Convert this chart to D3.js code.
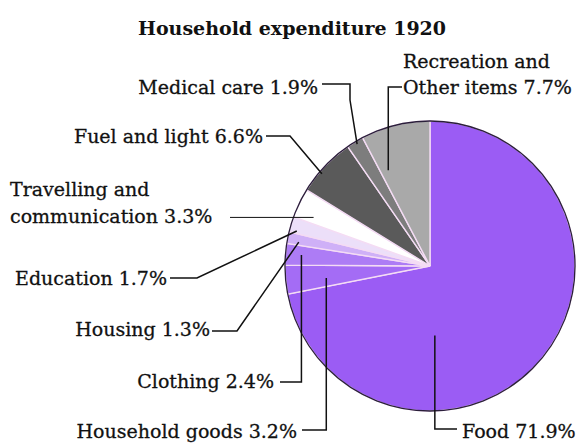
<!DOCTYPE html>
<html>
<head>
<meta charset="utf-8">
<script src="https://cdn.jsdelivr.net/npm/d3@7"></script>
<style>
  html, body { margin: 0; padding: 0; background: #fff; }
  svg { display: block; }
  text { font-family: "DejaVu Serif", serif; fill: #111; stroke: #111; stroke-width: 0.3; }
</style>
</head>
<body>
<svg id="chart" width="578" height="445"></svg>
<script>
// Household expenditure shares, 1920 (percent), clockwise from 12 o'clock
const categories = [
  "Food", "Household goods", "Clothing", "Housing", "Education",
  "Travelling and communication", "Fuel and light", "Medical care",
  "Recreation and Other items"
];
const shares = [71.9, 3.2, 2.4, 1.3, 1.7, 3.3, 6.6, 1.9, 7.7];
const palette = [
  "#9b5cf4", "#a46cf5", "#ad7cf5", "#cfb0f7", "#ecdff9",
  "#ffffff", "#5a5a5a", "#7d7d7d", "#a9a9a9"
];
// label lines as printed (value text appended from shares)
const labelLines = [
  ["Food"], ["Household goods"], ["Clothing"], ["Housing"], ["Education"],
  ["Travelling and", "communication"], ["Fuel and light"], ["Medical care"],
  ["Recreation and", "Other items"]
];

const W = 578, H = 445;
const cx = 430, cy = 266, R = 145;
const svg = d3.select("#chart");

svg.append("text")
  .attr("x", 292).attr("y", 35)
  .attr("text-anchor", "middle")
  .attr("font-weight", "bold")
  .attr("font-size", 19)
  .style("stroke-width", 0)
  .text("Household expenditure 1920");

const pie = d3.pie().sort(null).value(d => d)(shares);
const arc = d3.arc().innerRadius(0).outerRadius(R);

const g = svg.append("g").attr("transform", `translate(${cx},${cy})`);

g.selectAll("path.slice")
  .data(pie)
  .join("path")
  .attr("class", "slice")
  .attr("d", arc)
  .attr("fill", (d, i) => palette[i])
  .attr("stroke", "#f4dcf4")
  .attr("stroke-width", 1.4);

g.append("circle")
  .attr("r", R)
  .attr("fill", "none")
  .attr("stroke", "#2a1f3a")
  .attr("stroke-width", 1.3);

// Leader layout: anchor inside slice (fraction through slice, fraction of radius),
// then waypoints (null = keep previous coordinate), label position.
const layout = [
  { t: 0.68, rf: 0.48, pts: [[null, 429], [457, null]], tx: 462, ty: [438], anchor: "start" },
  { t: 0.40, rf: 0.72, pts: [[null, 430], [302, null]], tx: 297, ty: [438], anchor: "end" },
  { t: 0.53, rf: 0.89, pts: [[null, 382], [280, null]], tx: 274, ty: [388], anchor: "end" },
  { t: 0.28, rf: 0.92, pts: [[237, 331], [212, null]], tx: 210, ty: [336], anchor: "end" },
  { t: 0.17, rf: 0.95, pts: [[197, 278], [170, null]], tx: 167, ty: [285], anchor: "end" },
  { t: 0.24, rf: 0.87, pts: [[230, null]], tx: 10, ty: [196, 223], anchor: "start" },
  { t: 0.37, rf: 0.98, pts: [[290, 136], [266, null]], tx: 263, ty: [143], anchor: "end" },
  { t: 0.54, rf: 0.98, pts: [[350, 100], [null, 84], [322, null]], tx: 318, ty: [94], anchor: "end" },
  { t: 0.15, rf: 0.72, pts: [[null, 87], [402, null]], tx: 403, ty: [68, 94], anchor: "start" }
];

const leaders = svg.append("g");
const labels = svg.append("g");

pie.forEach((d, i) => {
  const L = layout[i];
  const a = d.startAngle + L.t * (d.endAngle - d.startAngle);
  const [px, py] = d3.pointRadial(a, L.rf * R);
  const pts = [[cx + px, cy + py]];
  L.pts.forEach(([x, y]) => {
    const prev = pts[pts.length - 1];
    pts.push([x == null ? prev[0] : x, y == null ? prev[1] : y]);
  });
  leaders.append("path")
    .attr("d", d3.line()(pts))
    .attr("fill", "none")
    .attr("stroke", "#111")
    .attr("stroke-width", i === 5 ? 1 : 1.5)
    .attr("stroke-linejoin", "miter");

  const lines = labelLines[i].slice();
  lines[lines.length - 1] += " " + d3.format(".1f")(shares[i]) + "%";
  const t = labels.append("text")
    .attr("text-anchor", L.anchor)
    .attr("font-size", 19);
  lines.forEach((s, k) => {
    t.append("tspan").attr("x", L.tx).attr("y", L.ty[k]).text(s);
  });
});
</script>
</body>
</html>
